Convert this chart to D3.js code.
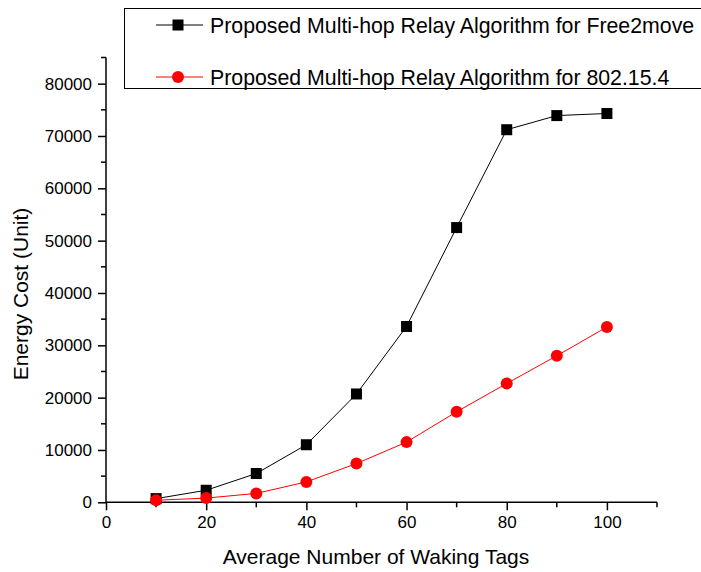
<!DOCTYPE html>
<html><head><meta charset="utf-8">
<script src="https://cdn.jsdelivr.net/npm/d3@7/dist/d3.min.js"></script>
<style>body{margin:0;background:#fff}svg{display:block}text{font-family:"Liberation Sans",Arial,sans-serif;fill:#000}</style>
</head><body>
<svg id="c" width="701" height="572"></svg>
<script>
const xValues = [10,20,30,40,50,60,70,80,90,100];
const free2move = [700,2300,5500,11000,20700,33600,52500,71200,73900,74300];
const ieee802154 = [400,800,1700,3900,7400,11500,17300,22700,28000,33500];
const seriesNames = ["Proposed Multi-hop Relay Algorithm for Free2move","Proposed Multi-hop Relay Algorithm for 802.15.4"];
const xTicks = [0,20,40,60,80,100];
const yTicks = [0,10000,20000,30000,40000,50000,60000,70000,80000];
const xTitle = "Average Number of Waking Tags";
const yTitle = "Energy Cost (Unit)";

const svg = d3.select("#c");
const x = d3.scaleLinear().domain([0,110]).range([106,657]);
const y = d3.scaleLinear().domain([0,85000]).range([502.3,57.5]);

// axes
const xAxis = d3.axisBottom(x).tickValues(xTicks).tickSize(8).tickPadding(6).tickFormat(d3.format("d"));
const gx = svg.append("g").attr("transform","translate(0,502.3)").call(xAxis);
gx.select(".domain").attr("d",`M${x(0)},0H${x(110)}`).attr("stroke-width",1.5);
gx.selectAll(".tick line").attr("stroke-width",1.5);
gx.selectAll(".tick text").attr("font-size",17);
gx.selectAll(".minor").data(d3.range(10,111,20)).enter().append("line")
  .attr("x1",d=>x(d)).attr("x2",d=>x(d)).attr("y1",0).attr("y2",5).attr("stroke","#000").attr("stroke-width",1.5);

const yAxis = d3.axisLeft(y).tickValues(yTicks).tickSize(8).tickPadding(6).tickFormat(d3.format("d"));
const gy = svg.append("g").attr("transform","translate(106,0)").call(yAxis);
gy.select(".domain").attr("d",`M0,${y(0)}V${y(85000)}`).attr("stroke-width",1.5);
gy.selectAll(".tick line").attr("stroke-width",1.5);
gy.selectAll(".tick text").attr("font-size",17);
gy.selectAll(".minor").data(d3.range(5000,85001,10000)).enter().append("line")
  .attr("y1",d=>y(d)).attr("y2",d=>y(d)).attr("x1",0).attr("x2",-5).attr("stroke","#000").attr("stroke-width",1.5);

// titles
svg.append("text").attr("x",376).attr("y",564).attr("text-anchor","middle").attr("font-size",21).text(xTitle);
svg.append("text").attr("transform","translate(28,294) rotate(-90)").attr("text-anchor","middle").attr("font-size",21).text(yTitle);

const line = d3.line().x((d,i)=>x(xValues[i])).y(d=>y(d));
// series 1
svg.append("path").datum(free2move).attr("d",line).attr("fill","none").attr("stroke","#000").attr("stroke-width",1);
svg.selectAll(".sq").data(free2move).enter().append("rect")
  .attr("x",(d,i)=>x(xValues[i])-5.5).attr("y",d=>y(d)-5.5).attr("width",11).attr("height",11).attr("fill","#000");
// series 2
svg.append("path").datum(ieee802154).attr("d",line).attr("fill","none").attr("stroke","#ff0000").attr("stroke-width",1);
svg.selectAll(".ci").data(ieee802154).enter().append("circle")
  .attr("cx",(d,i)=>x(xValues[i])).attr("cy",d=>y(d)).attr("r",6).attr("fill","#ff0000");

// legend
const lg = svg.append("g");
lg.append("rect").attr("x",124.5).attr("y",8.5).attr("width",600).attr("height",80).attr("fill","#fff").attr("stroke","#000").attr("stroke-width",1);
const ly = [25,77];
lg.append("line").attr("x1",156).attr("x2",203).attr("y1",ly[0]).attr("y2",ly[0]).attr("stroke","#000");
lg.append("rect").attr("x",178-5.5).attr("y",ly[0]-5.5).attr("width",11).attr("height",11).attr("fill","#000");
lg.append("line").attr("x1",156).attr("x2",203).attr("y1",ly[1]).attr("y2",ly[1]).attr("stroke","#ff0000");
lg.append("circle").attr("cx",178).attr("cy",ly[1]).attr("r",6).attr("fill","#ff0000");
seriesNames.forEach((n,i)=>{
  lg.append("text").attr("x",210).attr("y",ly[i]+7.5).attr("font-size",21.3).text(n);
});
</script>
</body></html>
